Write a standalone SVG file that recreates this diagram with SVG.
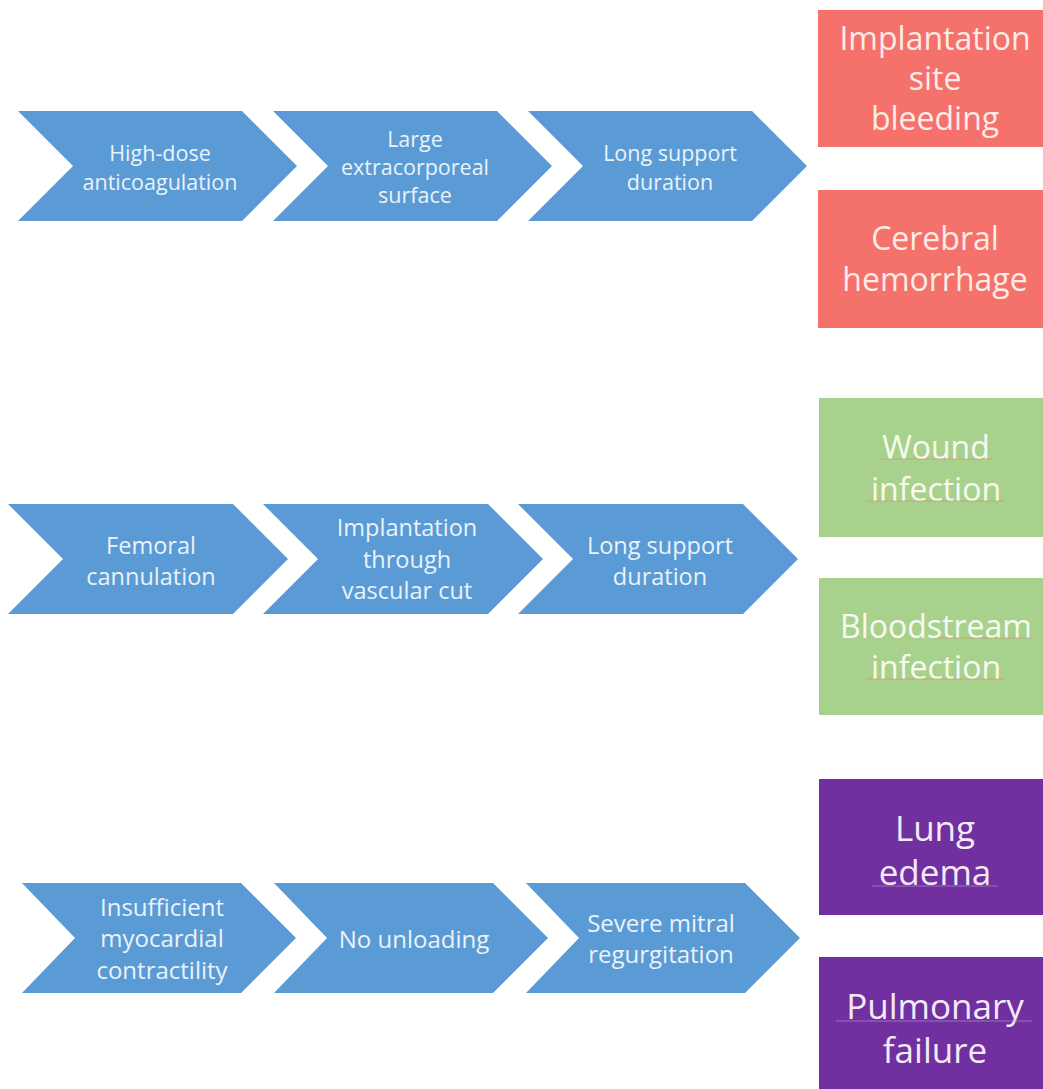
<svg xmlns="http://www.w3.org/2000/svg" width="1043" height="1089" viewBox="0 0 1043 1089">
<style>
.chev{fill:#5b9bd5}
.ct{font-family:"Open Sans","Noto Sans",sans-serif;fill:#eaf2fa;text-anchor:middle;dominant-baseline:central}
.r1{font-size:21.5px}
.r2{font-size:23.5px}
.r3{font-size:24px}
.bt{font-family:"Open Sans","Noto Sans",sans-serif;text-anchor:middle;dominant-baseline:central;font-size:32px}
.red{fill:#f4716c}
.green{fill:#a9d18e}
.purple{fill:#7030a0}
.tr{fill:#fcebe6}
.tg{fill:#f6fbee}
.tp{fill:#f5e9f7;font-size:35px}
.ul{stroke:#c89a6e;stroke-width:1;opacity:0.7}
.ulp{stroke:#b48ac8;stroke-width:1;opacity:0.7}
</style>
<rect width="1043" height="1089" fill="#ffffff"/>
<g id="connectors"></g>
<!-- Row 1 -->
<g id="n-high-dose">
<path class="chev" d="M18,111 L242,111 L297,166 L242,221 L18,221 L73,166 Z"/>
<text class="ct r1" x="160" y="152">High-dose</text>
<text class="ct r1" x="160" y="181">anticoagulation</text>
</g>
<g id="n-large-surface">
<path class="chev" d="M273,111 L497,111 L552,166 L497,221 L273,221 L328,166 Z"/>
<text class="ct r1" x="415" y="138">Large</text>
<text class="ct r1" x="415" y="166">extracorporeal</text>
<text class="ct r1" x="415" y="194">surface</text>
</g>
<g id="n-long-support-1">
<path class="chev" d="M528,111 L752,111 L807,166 L752,221 L528,221 L583,166 Z"/>
<text class="ct r1" x="670" y="152">Long support</text>
<text class="ct r1" x="670" y="181">duration</text>
</g>
<g id="n-implantation-bleeding">
<rect class="red" x="818" y="10" width="240" height="137"/>
<text class="bt tr" x="935" y="37">Implantation</text>
<text class="bt tr" x="935" y="77">site</text>
<text class="bt tr" x="935" y="117">bleeding</text>
</g>
<g id="n-cerebral">
<rect class="red" x="818" y="190" width="240" height="138"/>
<text class="bt tr" x="935" y="237">Cerebral</text>
<text class="bt tr" x="935" y="278">hemorrhage</text>
</g>
<!-- Row 2 -->
<g id="n-femoral">
<path class="chev" d="M8,504 L233,504 L288,559 L233,614 L8,614 L63,559 Z"/>
<text class="ct r2" x="151" y="545">Femoral</text>
<text class="ct r2" x="151" y="576">cannulation</text>
</g>
<g id="n-vascular-cut">
<path class="chev" d="M263,504 L488,504 L543,559 L488,614 L263,614 L318,559 Z"/>
<text class="ct r2" x="407" y="527">Implantation</text>
<text class="ct r2" x="407" y="558.5">through</text>
<text class="ct r2" x="407" y="590">vascular cut</text>
</g>
<g id="n-long-support-2">
<path class="chev" d="M518,504 L743,504 L798,559 L743,614 L518,614 L573,559 Z"/>
<text class="ct r2" x="660" y="545">Long support</text>
<text class="ct r2" x="660" y="576">duration</text>
</g>
<g id="n-wound-infection">
<rect class="green" x="819" y="398" width="240" height="139"/>
<text class="bt tg" x="936" y="446">Wound</text>
<text class="bt tg" x="936" y="488">infection</text>
<line class="ul" x1="880" y1="459" x2="992" y2="459"/>
<line class="ul" x1="866" y1="501" x2="1004" y2="501"/>
</g>
<g id="n-bloodstream-infection">
<rect class="green" x="819" y="578" width="240" height="137"/>
<text class="bt tg" x="936" y="625">Bloodstream</text>
<text class="bt tg" x="936" y="666">infection</text>
<line class="ul" x1="937" y1="638" x2="1033" y2="638"/>
<line class="ul" x1="866" y1="679" x2="1004" y2="679"/>
</g>
<!-- Row 3 -->
<g id="n-insufficient">
<path class="chev" d="M22,883 L241,883 L296,938 L241,993 L22,993 L75,938 Z"/>
<text class="ct r3" x="162" y="906">Insufficient</text>
<text class="ct r3" x="162" y="937.5">myocardial</text>
<text class="ct r3" x="162" y="969">contractility</text>
</g>
<g id="n-no-unloading">
<path class="chev" d="M274,883 L493,883 L548,938 L493,993 L274,993 L327,938 Z"/>
<text class="ct r3" x="414" y="938">No unloading</text>
</g>
<g id="n-mitral">
<path class="chev" d="M526,883 L745,883 L800,938 L745,993 L526,993 L579,938 Z"/>
<text class="ct r3" x="661" y="922">Severe mitral</text>
<text class="ct r3" x="661" y="953">regurgitation</text>
</g>
<g id="n-lung-edema">
<rect class="purple" x="819" y="779" width="240" height="136"/>
<text class="bt tp" x="935" y="827">Lung</text>
<text class="bt tp" x="935" y="871">edema</text>
<line class="ulp" x1="872" y1="886" x2="998" y2="886"/>
</g>
<g id="n-pulmonary-failure">
<rect class="purple" x="819" y="957" width="240" height="140"/>
<text class="bt tp" x="935" y="1005">Pulmonary</text>
<text class="bt tp" x="935" y="1049">failure</text>
<line class="ulp" x1="836" y1="1021" x2="1032" y2="1021"/>
</g>
</svg>
